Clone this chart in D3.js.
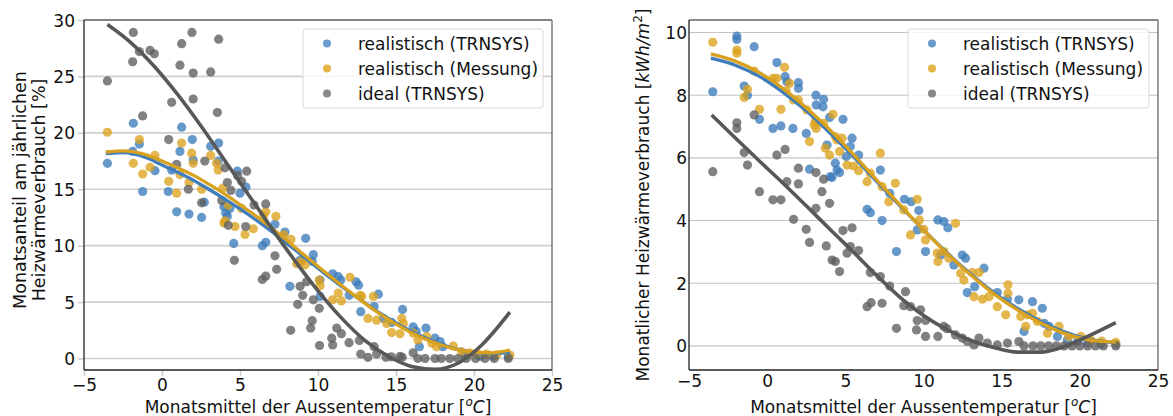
<!DOCTYPE html>
<html><head><meta charset="utf-8">
<script src="https://cdn.jsdelivr.net/npm/d3@7"></script>
<style>body{margin:0;background:#fff}svg{display:block;font-family:"DejaVu Sans",sans-serif}</style>
</head><body><svg id="c" width="1173" height="416"></svg>
<script>
// ---------- data ----------
const xTicks = [-5, 0, 5, 10, 15, 20, 25];
const yTicksLeft = [0, 5, 10, 15, 20, 25, 30];
const yTicksRight = [0, 2, 4, 6, 8, 10];
const seriesNames = ["realistisch (TRNSYS)", "realistisch (Messung)", "ideal (TRNSYS)"];

// left panel: monthly share of annual heat consumption [%]
const leftTrnsys = [[-3.5,17.3],[-1.84,20.85],[-1.88,18.35],[-1.45,19.0],[-1.24,14.8],[-0.45,16.65],[0.4,14.8],[0.62,16.7],[0.94,13.0],[1.26,20.5],[1.15,18.35],[1.94,19.4],[2.0,17.6],[1.73,12.8],[2.54,12.5],[2.71,13.85],[3.12,18.8],[3.63,19.1],[3.6,17.5],[3.97,13.45],[4.08,12.9],[4.19,12.6],[4.36,13.3],[4.6,10.2],[4.83,16.6],[5.0,14.65],[5.38,15.2],[6.43,10.0],[6.65,10.3],[7.24,11.9],[7.88,11.2],[8.2,6.4],[8.85,8.7],[9.21,10.65],[9.7,9.2],[9.63,8.6],[10.13,6.95],[10.13,5.5],[10.94,7.5],[11.3,7.25],[11.46,6.95],[12.0,5.6],[12.44,6.8],[12.6,6.5],[12.74,4.15],[13.6,4.6],[13.87,5.7],[14.19,3.55],[14.72,3.2],[15.42,4.35],[16.1,2.8],[16.3,2.4],[16.92,2.7],[16.5,1.05],[17.5,1.8],[17.82,1.5],[18.0,1.05],[19.4,0.4],[20.4,0.2],[21.2,0.2],[22.2,0.15]];
const leftMessung = [[-3.5,20.05],[-1.84,17.3],[-1.45,19.4],[-1.24,16.35],[-0.77,16.95],[-0.45,18.0],[0.43,15.7],[0.94,14.65],[1.15,16.3],[1.26,19.1],[1.73,15.6],[1.9,18.2],[2.0,17.3],[2.54,15.0],[3.12,18.0],[3.5,17.3],[3.6,16.7],[3.9,15.1],[4.25,13.6],[3.97,12.0],[4.04,12.2],[4.68,11.7],[5.1,13.3],[5.32,11.0],[5.85,11.5],[6.5,12.6],[6.65,13.0],[7.3,12.6],[7.82,10.95],[8.27,10.55],[8.63,8.4],[8.95,8.6],[9.17,8.3],[10.13,6.45],[10.08,6.95],[10.94,5.2],[11.3,5.8],[11.5,5.1],[12.05,7.2],[12.7,5.6],[12.8,5.5],[13.2,3.55],[13.55,5.5],[13.76,3.4],[14.4,3.1],[14.72,2.3],[15.37,3.55],[15.47,3.1],[15.26,2.2],[16.1,2.25],[16.4,1.65],[16.97,1.95],[17.3,1.35],[17.6,1.05],[18.67,1.1],[19.2,0.6],[19.74,0.5],[20.2,0.45],[20.8,0.4],[21.46,0.3],[22.3,0.3]];
const leftIdeal = [[-3.5,24.6],[-1.84,28.9],[-1.88,26.3],[-1.45,27.2],[-0.77,27.3],[-0.49,27.0],[-1.24,21.5],[1.92,28.9],[1.26,27.9],[1.15,26.0],[0.62,22.7],[2.0,25.3],[2.0,23.0],[3.12,25.4],[3.63,28.3],[3.55,21.8],[0.43,19.4],[0.94,17.2],[2.74,17.5],[4.04,16.9],[5.43,16.6],[4.85,16.2],[5.1,15.7],[1.69,15.0],[2.54,13.8],[3.83,14.0],[4.42,14.9],[4.19,15.6],[5.9,13.6],[6.65,13.7],[4.25,11.8],[5.36,11.7],[4.64,8.7],[6.43,7.0],[6.65,7.3],[7.24,9.1],[7.35,7.9],[8.7,4.8],[8.25,2.5],[8.85,6.4],[9.02,5.6],[9.27,6.8],[9.7,5.2],[10.08,4.45],[9.63,3.35],[9.53,2.7],[11.2,2.7],[11.5,2.2],[10.88,1.8],[10.1,1.15],[10.94,1.2],[11.99,1.4],[12.65,1.6],[12.74,0.4],[13.2,0.1],[13.6,1.05],[13.76,0.4],[14.36,0.1],[14.7,0.15],[15.26,0.2],[15.4,0.1],[16.1,0.5],[16.4,0.0],[16.86,0.0],[17.5,0],[17.9,0],[18.45,0],[18.97,0],[19.5,0],[20.1,0],[20.7,0],[21.3,0],[22.2,0]];
const leftTrnsysFit = [[-3.6,18.15],[-2.5,18.25],[-1,17.8],[0,17.15],[1,16.5],[2,15.8],[3,15.0],[4,14.15],[5,13.25],[6,12.3],[7.5,10.75],[9,9.1],[10.5,7.45],[12,5.9],[13.5,4.45],[15,3.15],[16.5,2.05],[18,1.2],[19.5,0.65],[21,0.45],[22.3,0.55]];
const leftMessungFit = [[-3.6,18.3],[-2.5,18.4],[-1,18.05],[0,17.5],[1,16.9],[2,16.25],[3,15.45],[4,14.6],[5,13.65],[6,12.65],[7.5,11.05],[9,9.3],[10.5,7.6],[12,5.95],[13.5,4.4],[15,3.05],[16.5,1.95],[18,1.15],[19.5,0.65],[21,0.5],[22.3,0.75]];
const leftIdealFit = [[-3.5,29.6],[-2,28.0],[-0.5,25.9],[1,23.4],[2.5,20.6],[4,17.6],[5.5,14.6],[7,11.6],[8.5,8.7],[10,6.0],[11.5,3.6],[13,1.6],[14.5,0.2],[16,-0.7],[17.5,-0.95],[19,-0.4],[20.5,1.2],[22.3,4.1]];

// right panel: monthly heat consumption [kWh/m2]
const rightTrnsys = [[-3.48,8.11],[-1.94,9.89],[-1.94,9.78],[-1.47,8.29],[-1.26,8.0],[-0.83,9.55],[-0.49,7.23],[0.37,6.94],[0.88,7.02],[0.62,9.04],[1.15,8.59],[1.26,8.43],[1.65,6.94],[2.0,8.22],[2.0,8.4],[2.5,6.78],[2.71,5.64],[3.12,8.0],[3.61,7.87],[3.14,7.69],[3.57,7.63],[3.99,7.29],[4.85,7.23],[3.83,6.41],[4.04,5.4],[4.47,5.61],[4.36,5.83],[4.63,5.53],[4.15,5.38],[5.43,6.63],[5.32,6.36],[5.85,6.09],[5.06,6.04],[7.24,5.61],[7.84,4.87],[8.78,4.68],[9.21,4.6],[9.7,4.32],[9.6,3.7],[10.92,4.02],[6.39,4.36],[6.6,4.25],[7.35,4.0],[8.27,3.01],[10.13,3.01],[11.3,3.97],[11.56,3.77],[11.1,2.9],[11.94,2.58],[12.48,2.9],[12.69,2.8],[13.27,1.89],[12.8,1.7],[13.87,2.48],[14.72,1.7],[15.37,1.49],[16.1,1.47],[16.97,1.41],[17.6,1.2],[16.43,0.46],[17.72,0.72],[18.03,0.62],[18.57,0.3],[19.2,0.19],[19.85,0.14],[20.5,0.1],[21.35,0.06],[22.3,0.06]];
const rightMessung = [[-3.48,9.69],[-1.94,9.44],[-1.94,9.34],[-1.47,7.93],[-1.26,8.19],[-0.83,8.77],[-0.49,7.55],[0.37,8.54],[0.62,8.54],[1.11,8.89],[1.22,8.14],[0.88,7.55],[1.43,8.38],[1.69,7.85],[2.0,7.85],[2.54,7.53],[2.71,6.52],[3.01,7.05],[3.14,6.94],[3.61,7.1],[3.08,7.16],[4.21,7.39],[3.72,6.31],[3.99,6.09],[4.36,6.68],[4.47,6.57],[4.79,6.63],[4.63,6.2],[5.11,5.77],[5.53,5.74],[5.85,5.59],[6.6,5.51],[6.39,5.24],[7.24,6.15],[7.35,5.08],[7.78,4.6],[8.2,5.19],[8.74,4.34],[9.6,4.68],[9.74,4.02],[9.17,3.54],[10.13,3.38],[10.02,3.72],[10.88,2.96],[10.92,2.69],[11.3,3.01],[12.05,3.91],[11.62,2.8],[12.37,2.32],[12.58,2.1],[13.12,2.34],[13.55,2.34],[13.23,1.57],[13.77,1.49],[14.19,1.57],[14.72,1.25],[15.26,0.99],[15.4,1.95],[15.4,1.68],[16.22,0.94],[16.65,0.99],[16.97,1.04],[16.54,0.62],[17.29,0.78],[17.93,0.4],[18.67,0.62],[19.3,0.3],[20.06,0.3],[20.7,0.19],[21.4,0.15],[22.3,0.11]];
const rightIdeal = [[-3.48,5.56],[-1.94,7.12],[-1.94,6.94],[-1.47,6.17],[-1.26,5.77],[-0.83,7.37],[-0.49,4.92],[0.37,4.66],[0.88,4.66],[0.62,6.09],[1.15,6.27],[1.26,5.24],[2.0,5.67],[2.0,5.17],[3.12,5.53],[3.61,5.32],[3.5,4.92],[3.99,4.55],[3.12,4.39],[1.69,4.04],[2.5,3.72],[2.71,3.3],[3.78,3.19],[4.15,2.74],[4.36,2.69],[4.63,2.37],[4.85,3.68],[5.43,3.77],[5.32,3.17],[5.85,3.04],[5.11,2.96],[6.6,2.34],[7.24,2.21],[7.84,1.91],[6.39,1.25],[6.65,1.38],[7.35,1.36],[8.85,1.73],[8.74,1.28],[9.17,1.25],[9.81,1.15],[8.27,0.56],[9.6,0.81],[9.55,0.51],[10.13,0.3],[10.92,0.3],[10.13,0.81],[11.3,0.62],[11.5,0.55],[12.05,0.35],[12.48,0.25],[12.8,0.14],[13.55,0.25],[13.23,0.03],[14.08,0.09],[14.72,0.03],[15.37,0.09],[16.1,0.14],[16.43,0],[17.0,0],[17.5,0],[18.0,0],[18.5,0],[19.0,0],[19.5,0],[20.0,0],[20.5,0],[21.0,0],[21.5,0],[22.3,0]];
const rightTrnsysFit = [[-3.6,9.18],[-2,8.95],[-0.5,8.6],[1,8.1],[2.5,7.5],[4,6.8],[5.5,6.05],[7,5.25],[8.5,4.47],[10,3.7],[11.5,2.97],[13,2.3],[14.5,1.7],[16,1.2],[17.5,0.78],[19,0.45],[20.5,0.22],[22.3,0.1]];
const rightMessungFit = [[-3.6,9.32],[-2,9.08],[-0.5,8.72],[1,8.22],[2.5,7.6],[4,6.9],[5.5,6.12],[7,5.3],[8.5,4.5],[10,3.7],[11.5,2.95],[13,2.27],[14.5,1.66],[16,1.15],[17.5,0.73],[19,0.4],[20.5,0.2],[22.3,0.12]];
const rightIdealFit = [[-3.55,7.37],[-2,6.62],[-0.5,5.9],[1,5.2],[2.5,4.47],[4,3.73],[5.5,3.0],[7,2.25],[8.5,1.55],[10,0.97],[11.5,0.52],[13,0.18],[14.5,-0.05],[16,-0.2],[17.5,-0.2],[19,-0.02],[20.5,0.3],[22.3,0.74]];

// ---------- drawing ----------
const svg = d3.select("#c");
const font = '"DejaVu Sans", sans-serif';
const ptCol = ["#3b7bbb", "#dba11c", "#5e5e5e"];
const lineCol = ["#3f7dbb", "#d9a21e", "#585858"];
const legCol = ["#6a9dcc", "#e3b645", "#888888"];

function panel(cfg) {
  const x = d3.scaleLinear().domain([-5, 25]).range([cfg.x0, cfg.x1]);
  const y = d3.scaleLinear().domain(cfg.ydom).range([370, 20]);
  const g = svg.append("g");
  g.selectAll(".grid").data(cfg.yticks).join("line")
    .attr("x1", cfg.x0).attr("x2", cfg.x1)
    .attr("y1", d => y(d)).attr("y2", d => y(d))
    .attr("stroke", cfg.gridCol).attr("stroke-width", cfg.gridW);
  const ya = d3.axisLeft(y).tickValues(cfg.yticks).tickSize(cfg.tick).tickPadding(cfg.tick ? 3 : 2)
    .tickFormat(d => d < 0 ? "\u2212" + Math.abs(d) : d);
  const xa = d3.axisBottom(x).tickValues(xTicks).tickSize(cfg.tick).tickPadding(cfg.tick ? 3 : 5)
    .tickFormat(d => d < 0 ? "\u2212" + Math.abs(d) : d);
  const gy = g.append("g").attr("transform", `translate(${cfg.x0},0)`).call(ya);
  const gx = g.append("g").attr("transform", `translate(0,370)`).call(xa);
  [gx, gy].forEach(a => {
    a.select(".domain").remove();
    a.selectAll(".tick line").attr("stroke", cfg.tickCol).attr("stroke-width", 1.5);
    a.selectAll(".tick text").attr("font-family", font).attr("font-size", 17).attr("fill", "#111");
  });
  gy.selectAll(".tick text").attr("dy", "0.36em");
  g.append("line").attr("x1", cfg.x0).attr("x2", cfg.x1).attr("y1", 20).attr("y2", 20).attr("stroke", "#666").attr("stroke-width", 1.3);
  g.append("line").attr("x1", cfg.x1).attr("x2", cfg.x1).attr("y1", 20).attr("y2", 370).attr("stroke", "#666").attr("stroke-width", 1.3);
  g.append("line").attr("x1", cfg.x0).attr("x2", cfg.x1).attr("y1", 370).attr("y2", 370).attr("stroke", "#222").attr("stroke-width", 1.3);
  g.append("line").attr("x1", cfg.x0).attr("x2", cfg.x0).attr("y1", 20).attr("y2", 370).attr("stroke", "#222").attr("stroke-width", 1.3);

  cfg.pts.forEach((pts, i) => {
    g.append("g").selectAll("circle").data(pts).join("circle")
      .attr("cx", d => x(d[0])).attr("cy", d => y(d[1])).attr("r", 4.6)
      .attr("fill", ptCol[i]).attr("fill-opacity", 0.78);
  });
  const line = d3.line().x(d => x(d[0])).y(d => y(d[1])).curve(d3.curveMonotoneX);
  cfg.fits.forEach((f, i) => {
    g.append("path").attr("d", line(f)).attr("fill", "none")
      .attr("stroke", lineCol[i]).attr("stroke-width", i === 2 ? 3.6 : 3.3);
  });

  const lg = g.append("g");
  lg.append("rect").attr("x", cfg.legX).attr("y", 29).attr("width", cfg.legW).attr("height", 79)
    .attr("rx", 3).attr("fill", "#fff").attr("fill-opacity", 0.8).attr("stroke", "#d8d8d8").attr("stroke-width", 1);
  seriesNames.forEach((n, i) => {
    const yy = 43.5 + i * 25;
    lg.append("circle").attr("cx", cfg.legX + 24).attr("cy", yy).attr("r", 4).attr("fill", legCol[i]);
    lg.append("text").attr("x", cfg.legX + 55).attr("y", yy).attr("dy", "0.36em")
      .attr("font-family", font).attr("font-size", 17).attr("fill", "#111").text(n);
  });

  const xl = g.append("text").attr("x", (cfg.x0 + cfg.x1) / 2).attr("y", 413).attr("text-anchor", "middle")
    .attr("font-family", font).attr("font-size", 17).attr("fill", "#111");
  xl.append("tspan").text("Monatsmittel der Aussentemperatur [");
  xl.append("tspan").attr("font-style", "italic").attr("font-size", 12).attr("dy", -7).text("o");
  xl.append("tspan").attr("font-style", "italic").attr("dy", 7).text("C");
  xl.append("tspan").text("]");
  return g;
}

panel({x0: 84, x1: 552, ydom: [-1.02, 30], yticks: yTicksLeft, tick: 6, tickCol: "#cccccc",
  gridCol: "#d0d0d0", gridW: 1.6, legX: 303, legW: 240,
  pts: [leftTrnsys, leftMessung, leftIdeal], fits: [leftTrnsysFit, leftMessungFit, leftIdealFit]});
panel({x0: 689, x1: 1158, ydom: [-0.77, 10.4], yticks: yTicksRight, tick: 0, tickCol: "#ccc",
  gridCol: "#c4c4c4", gridW: 1.1, legX: 908, legW: 241,
  pts: [rightTrnsys, rightMessung, rightIdeal], fits: [rightTrnsysFit, rightMessungFit, rightIdealFit]});

svg.append("text").attr("transform", "translate(20,190) rotate(-90)").attr("text-anchor", "middle")
  .attr("font-family", font).attr("font-size", 17.5).attr("fill", "#111").attr("dy", "0.36em")
  .text("Monatsanteil am jährlichen");
svg.append("text").attr("transform", "translate(39,190) rotate(-90)").attr("text-anchor", "middle")
  .attr("font-family", font).attr("font-size", 17.5).attr("fill", "#111").attr("dy", "0.36em")
  .text("Heizwärmeverbrauch [%]");
const yr = svg.append("text").attr("transform", "translate(643,195) rotate(-90)").attr("text-anchor", "middle")
  .attr("font-family", font).attr("font-size", 17).attr("fill", "#111").attr("dy", "0.36em");
yr.append("tspan").text("Monatlicher Heizwärmeverbrauch [");
yr.append("tspan").attr("font-style", "italic").text("kWh/m");
yr.append("tspan").attr("font-size", 12).attr("dy", -7).text("2");
yr.append("tspan").attr("dy", 7).text("]");
</script></body></html>
